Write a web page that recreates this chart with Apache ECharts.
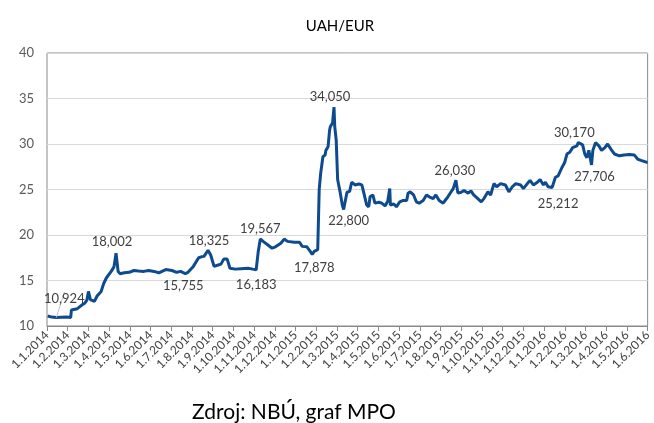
<!DOCTYPE html>
<html>
<head>
<meta charset="utf-8">
<script src="https://cdn.jsdelivr.net/npm/echarts@6/dist/echarts.min.js"></script>
<style>
    html, body { margin: 0; padding: 0; background: #fff; }
    #chart { width: 654px; height: 423px; }
</style>
</head>
<body>
<div id="chart"></div>
<script>
    // kurz UAH/EUR, datum d.m.yyyy
    const dates = [
        '2.1.2014', '8.1.2014', '15.1.2014', '22.1.2014', '30.1.2014',
        '5.2.2014', '6.2.2014', '14.2.2014', '20.2.2014', '24.2.2014', '27.2.2014',
        '1.3.2014', '4.3.2014', '10.3.2014', '14.3.2014', '20.3.2014', '24.3.2014', '28.3.2014',
        '4.4.2014', '8.4.2014', '11.4.2014', '14.4.2014', '17.4.2014', '23.4.2014', '30.4.2014',
        '7.5.2014', '14.5.2014', '22.5.2014', '29.5.2014',
        '6.6.2014', '13.6.2014', '23.6.2014',
        '2.7.2014', '9.7.2014', '15.7.2014', '22.7.2014', '26.7.2014',
        '3.8.2014', '11.8.2014', '15.8.2014', '19.8.2014', '25.8.2014', '29.8.2014',
        '3.9.2014', '9.9.2014', '13.9.2014', '17.9.2014', '22.9.2014', '26.9.2014',
        '4.10.2014', '12.10.2014', '23.10.2014', '30.10.2014',
        '4.11.2014', '7.11.2014', '10.11.2014', '14.11.2014', '21.11.2014', '27.11.2014',
        '2.12.2014', '10.12.2014', '15.12.2014', '20.12.2014', '30.12.2014',
        '7.1.2015', '11.1.2015', '18.1.2015', '23.1.2015', '26.1.2015', '29.1.2015',
        '3.2.2015', '5.2.2015', '7.2.2015', '10.2.2015', '13.2.2015', '14.2.2015', '17.2.2015',
        '19.2.2015', '20.2.2015', '23.2.2015', '25.2.2015', '26.2.2015', '28.2.2015',
        '2.3.2015', '6.3.2015', '9.3.2015', '11.3.2015', '16.3.2015', '20.3.2015', '23.3.2015', '28.3.2015',
        '3.4.2015', '7.4.2015', '10.4.2015', '14.4.2015', '17.4.2015', '19.4.2015', '23.4.2015', '26.4.2015',
        '2.5.2015', '6.5.2015', '11.5.2015', '15.5.2015', '18.5.2015', '19.5.2015', '24.5.2015', '28.5.2015',
        '2.6.2015', '7.6.2015', '12.6.2015', '14.6.2015', '17.6.2015', '22.6.2015', '26.6.2015', '30.6.2015',
        '6.7.2015', '11.7.2015', '15.7.2015', '21.7.2015', '25.7.2015', '30.7.2015',
        '5.8.2015', '9.8.2015', '12.8.2015', '20.8.2015', '24.8.2015', '27.8.2015',
        '1.9.2015', '5.9.2015', '11.9.2015', '15.9.2015', '19.9.2015', '25.9.2015', '30.9.2015',
        '4.10.2015', '10.10.2015', '14.10.2015', '19.10.2015', '23.10.2015', '29.10.2015',
        '5.11.2015', '10.11.2015', '15.11.2015', '20.11.2015', '27.11.2015',
        '1.12.2015', '7.12.2015', '11.12.2015', '16.12.2015', '22.12.2015', '26.12.2015', '31.12.2015',
        '3.1.2016', '7.1.2016', '13.1.2016', '18.1.2016', '22.1.2016', '28.1.2016',
        '1.2.2016', '4.2.2016', '8.2.2016', '12.2.2016', '18.2.2016', '20.2.2016', '26.2.2016', '29.2.2016',
        '3.3.2016', '6.3.2016', '10.3.2016', '12.3.2016', '16.3.2016', '21.3.2016', '25.3.2016', '30.3.2016',
        '3.4.2016', '9.4.2016', '13.4.2016', '20.4.2016', '27.4.2016',
        '5.5.2016', '12.5.2016', '17.5.2016', '22.5.2016', '30.5.2016',
        '1.6.2016'
    ];
    const rates = [
        11.10, 10.98, 10.924, 10.95, 10.98,
        10.93, 11.75, 11.90, 12.30, 12.50, 12.85,
        13.80, 12.90, 12.70, 13.30, 13.80, 14.70, 15.30,
        16.00, 16.50, 18.002, 16.00, 15.75, 15.85, 15.90,
        16.10, 16.05, 16.00, 16.10,
        16.00, 15.85, 16.20,
        16.10, 15.90, 16.00, 15.755, 15.90,
        16.55, 17.50, 17.60, 17.65, 18.325, 17.80,
        16.55, 16.70, 16.80, 17.35, 17.35, 16.35,
        16.25, 16.30, 16.35, 16.25,
        16.183, 18.20, 19.567, 19.30, 18.90, 18.55,
        18.70, 19.10, 19.55, 19.30, 19.20,
        19.20, 18.75, 18.70, 18.20, 17.878, 18.20,
        18.40, 25.00, 26.80, 28.60, 28.80, 29.30, 29.70,
        31.50, 31.90, 32.30, 34.050, 31.90, 30.40,
        26.10, 24.60, 23.30, 22.800, 24.70, 24.80, 25.80, 25.50,
        25.60, 25.50, 24.60, 23.30, 23.10, 24.20, 24.40, 23.50,
        23.60, 23.50, 23.20, 23.70, 25.10, 23.30, 23.40, 23.10,
        23.65, 23.80, 23.80, 24.60, 24.75, 24.40, 23.65, 23.50,
        23.80, 24.40, 24.20, 24.00, 24.40, 23.80,
        23.50, 23.90, 24.20, 25.10, 26.030, 24.60,
        24.70, 24.90, 24.60, 24.85, 24.40, 24.00, 23.65,
        24.00, 24.75, 24.40, 25.65, 25.30, 25.65,
        25.50, 24.75, 25.30, 25.65, 25.50,
        25.10, 25.65, 26.00, 25.50, 25.80, 26.10, 25.50,
        25.80, 25.30, 25.212, 26.35, 26.50, 27.45,
        28.00, 28.90, 29.10, 29.60, 29.80, 30.170, 29.90, 28.90,
        28.50, 29.30, 27.706, 29.30, 30.15, 29.80, 29.30, 29.60,
        30.00, 29.30, 28.90, 28.70, 28.80,
        28.85, 28.80, 28.35, 28.20, 28.00,
        28.00
    ];
    // popsane body
    const labelAt = ['15.1.2014', '11.4.2014', '22.7.2014', '25.8.2014', '4.11.2014', '10.11.2014',
        '26.1.2015', '25.2.2015', '11.3.2015', '24.8.2015', '13.1.2016', '20.2.2016', '10.3.2016'];
    // osa x: mesice od 1.1.2014
    const monthCount = 29;

    // posun popisku od bodu [dx, dy] v px
    const labelShift = {
        '15.1.2014': [8, -19], '11.4.2014': [-4, -11], '22.7.2014': [-2, 12], '25.8.2014': [1, -9],
        '4.11.2014': [0, 15], '10.11.2014': [0, -10], '26.1.2015': [2, 14], '25.2.2015': [-4, -10],
        '11.3.2015': [5, 11], '24.8.2015': [-1, -9], '13.1.2016': [6, 16], '20.2.2016': [-4, -10],
        '10.3.2016': [3, 12]
    };
    // popisek s odkazovou carou
    const withLeader = ['15.1.2014'];

    function toMonths(s) {
        const p = s.split('.').map(Number);
        const daysIn = new Date(p[2], p[1], 0).getDate();
        return (p[2] - 2014) * 12 + (p[1] - 1) + (p[0] - 1) / daysIn;
    }

    const FONT = 'Lato';
    const seriesData = dates.map(function (d, i) {
        const item = {value: [toMonths(d), rates[i]]};
        if (labelAt.indexOf(d) >= 0) {
            item.label = {
                show: true,
                position: 'inside',
                formatter: function (p) { return p.value[1].toFixed(3).replace('.', ','); }
            };
            if (withLeader.indexOf(d) >= 0) {
                item.labelLine = {show: true, smooth: false, length2: 0,
                    lineStyle: {color: '#c0c0c0', width: 1}};
            }
        }
        return item;
    });

    const chart = echarts.init(document.getElementById('chart'));
    chart.setOption({
        animation: false,
        textStyle: {fontFamily: FONT},
        title: [{
            text: 'UAH/EUR',
            left: 335, top: 14, textAlign: 'center',
            textStyle: {fontFamily: FONT, fontSize: 15, fontWeight: 'normal', color: '#000'}
        }, {
            text: 'Zdroj: NBÚ, graf MPO',
            left: 289, top: 397, textAlign: 'center',
            textStyle: {fontFamily: FONT, fontSize: 21, fontWeight: 'normal', color: '#000'}
        }],
        grid: {
            left: 47, right: 1, top: 53, bottom: 97,
            show: true, borderColor: '#898989', borderWidth: 1
        },
        xAxis: {
            type: 'value',
            min: 0, max: monthCount, interval: 1,
            axisLine: {lineStyle: {color: '#898989'}},
            axisTick: {show: true, length: 5, lineStyle: {color: '#898989'}},
            splitLine: {show: false},
            axisLabel: {
                rotate: 45, margin: 7,
                fontFamily: FONT, fontSize: 12, color: '#404040',
                formatter: function (v) {
                    return '1.' + (v % 12 + 1) + '.' + (2014 + Math.floor(v / 12));
                }
            }
        },
        yAxis: {
            type: 'value',
            min: 10, max: 40, interval: 5,
            axisLine: {show: false},
            axisTick: {show: false},
            splitLine: {lineStyle: {color: '#d9d9d9'}},
            axisLabel: {margin: 13, fontFamily: FONT, fontSize: 13, color: '#595959'}
        },
        series: [{
            type: 'line',
            data: seriesData,
            showSymbol: true,
            symbol: 'circle',
            symbolSize: 0,
            lineStyle: {color: '#0e4b8e', width: 3},
            itemStyle: {color: '#0e4b8e'},
            label: {show: false, fontFamily: FONT, fontSize: 13, color: '#404040'},
            labelLine: {show: false},
            labelLayout: function (p) {
                const d = dates[p.dataIndex];
                const sh = labelShift[d];
                return sh ? {dx: sh[0], dy: sh[1]} : {};
            },
            emphasis: {disabled: true}
        }]
    });
</script>
</body>
</html>
